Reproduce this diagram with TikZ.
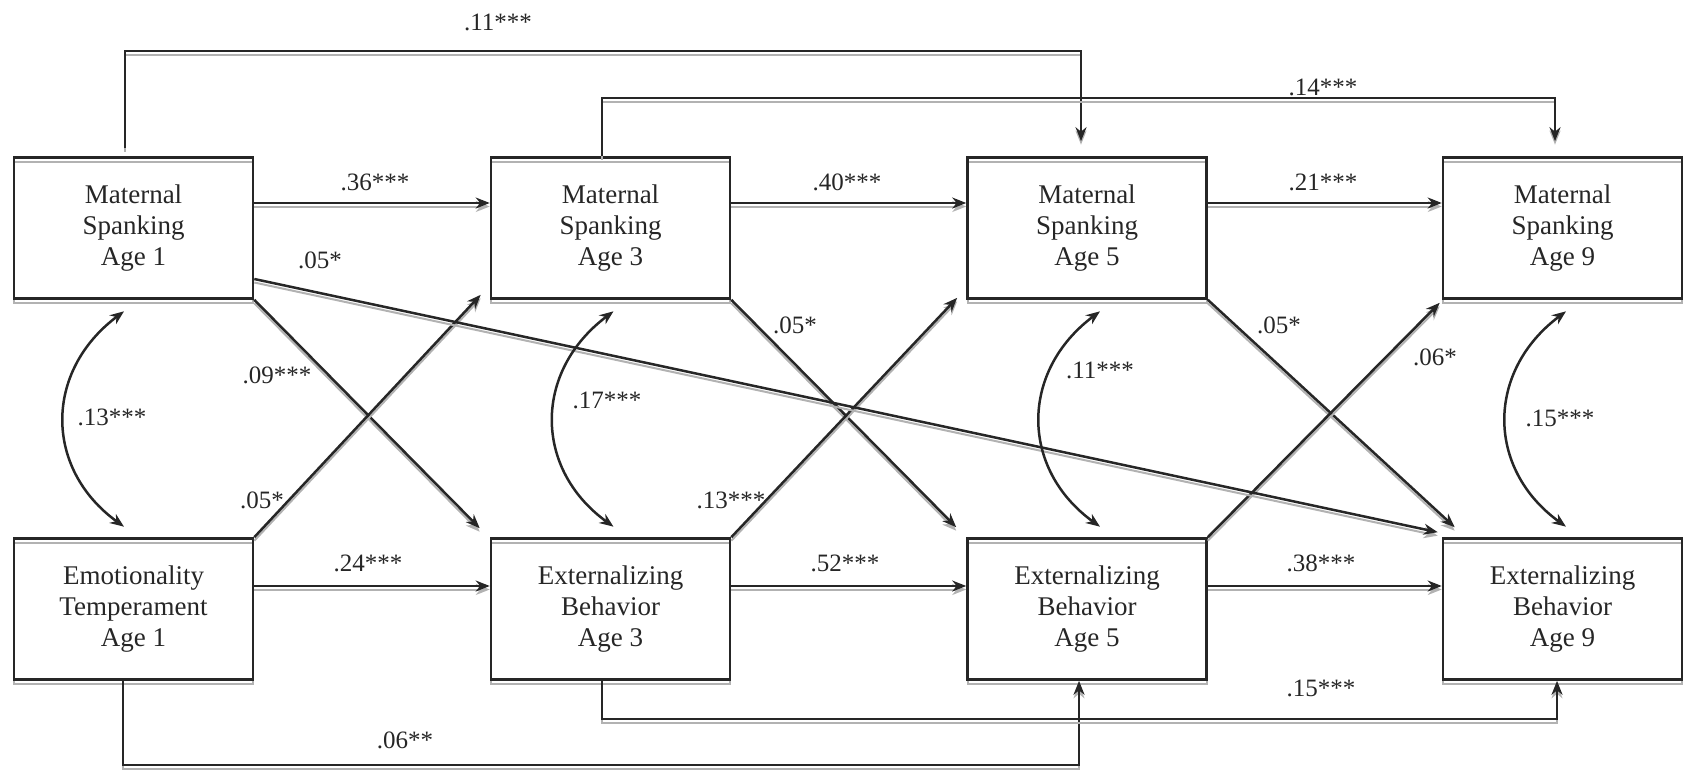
\documentclass[tikz,border=0pt]{standalone}
\usepackage{fontspec}
\setmainfont{Liberation Serif}
\usetikzlibrary{arrows.meta,calc}
\begin{document}
\begin{tikzpicture}[x=1pt,y=-1pt,
  box/.style={draw=black!85, line width=2.6pt, minimum width=239pt, minimum height=141pt,
    inner sep=0pt, align=center, font=\fontsize{27}{31}\selectfont, text=black!85,
    preaction={draw=black!30, line width=2pt, transform canvas={yshift=-4pt}}},
  lbl/.style={font=\fontsize{25}{28}\selectfont, text=black!85, inner sep=0pt},
  conn/.style={draw=black!85, line width=2.5pt,
    preaction={draw=black!30, line width=2pt, transform canvas={yshift=-3.5pt}}},
  arr/.style={conn, -{Stealth[length=14pt,width=11pt,inset=4.5pt]}},
  darr/.style={draw=black!85, line width=2.5pt,
    {Stealth[length=14pt,width=11pt,inset=4.5pt]}-{Stealth[length=14pt,width=11pt,inset=4.5pt]}}
]
\useasboundingbox (0,0) rectangle (1684,769);

% boxes
\node[box] (ms1) at (133.5,228) {Maternal\\Spanking\\Age 1};
\node[box] (ms3) at (610.5,228) {Maternal\\Spanking\\Age 3};
\node[box] (ms5) at (1087,228) {Maternal\\Spanking\\Age 5};
\node[box] (ms9) at (1562.5,228) {Maternal\\Spanking\\Age 9};
\node[box] (et1) at (133.5,609) {Emotionality\\Temperament\\Age 1};
\node[box] (eb3) at (610.5,609) {Externalizing\\Behavior\\Age 3};
\node[box] (eb5) at (1087,609) {Externalizing\\Behavior\\Age 5};
\node[box] (eb9) at (1562.5,609) {Externalizing\\Behavior\\Age 9};

% horizontal paths
\draw[arr] ([yshift=25pt]ms1.east) -- ([yshift=25pt]ms3.west);
\draw[arr] ([yshift=25pt]ms3.east) -- ([yshift=25pt]ms5.west);
\draw[arr] ([yshift=25pt]ms5.east) -- ([yshift=25pt]ms9.west);
\draw[arr] ([yshift=23pt]et1.east) -- ([yshift=23pt]eb3.west);
\draw[arr] ([yshift=23pt]eb3.east) -- ([yshift=23pt]eb5.west);
\draw[arr] ([yshift=23pt]eb5.east) -- ([yshift=23pt]eb9.west);

% long lags above
\coordinate (k11) at (1081,51);
\draw[arr] ([xshift=-8.5pt,yshift=8pt]ms1.north) |- (k11) -- ([xshift=-6pt,yshift=15pt]ms5.north);
\coordinate (k14) at (1555,98);
\draw[arr] ([xshift=-8.5pt]ms3.north) |- (k14) -- ([xshift=-7.5pt,yshift=15pt]ms9.north);

% long lags below
\coordinate (k06) at (1079,765);
\draw[arr] ([xshift=-10.5pt]et1.south) |- (k06) -- ([xshift=-8pt]eb5.south);
\coordinate (k15) at (1557,719);
\draw[arr] ([xshift=-8.5pt]eb3.south) |- (k15) -- ([xshift=-5.5pt]eb9.south);

% cross-lagged paths
\draw[arr] (ms1.south east) -- ([xshift=-10pt,yshift=9pt]eb3.north west);
\draw[arr] (et1.north east) -- ([xshift=-9pt,yshift=5pt]ms3.south west);
\draw[arr] (ms3.south east) -- ([xshift=-10pt,yshift=10pt]eb5.north west);
\draw[arr] (eb3.north east) -- ([xshift=-9pt,yshift=2pt]ms5.south west);
\draw[arr] (ms5.south east) -- ([xshift=13pt,yshift=10pt]eb9.north west);
\draw[arr] (eb5.north east) -- ([xshift=-2pt,yshift=-3pt]ms9.south west);
\draw[arr] ([yshift=-51pt]ms1.east) -- ([xshift=-4pt,yshift=5pt]eb9.north west);

% correlations
\draw[darr] ([xshift=-9.5pt,yshift=-11.5pt]ms1.south) .. controls +(-80,60) and +(-80,-58) .. ([xshift=-9.5pt,yshift=10.5pt]et1.north);
\draw[darr] ([xshift=3pt,yshift=-11.5pt]ms3.south) .. controls +(-80,60) and +(-80,-58) .. ([xshift=3pt,yshift=10.5pt]eb3.north);
\draw[darr] ([xshift=13pt,yshift=-11.5pt]ms5.south) .. controls +(-80,60) and +(-80,-58) .. ([xshift=13pt,yshift=10.5pt]eb5.north);
\draw[darr] ([xshift=3.5pt,yshift=-11.5pt]ms9.south) .. controls +(-80,60) and +(-80,-58) .. ([xshift=3.5pt,yshift=10.5pt]eb9.north);

% labels
\node[lbl] (l01) at (498,22) {.11***};
\node[lbl] (l02) at (1323,87) {.14***};
\node[lbl] (l03) at (375,182) {.36***};
\node[lbl] (l04) at (847,182) {.40***};
\node[lbl] (l05) at (1323,182) {.21***};
\node[lbl] (l06) at (320,260) {.05*};
\node[lbl] (l07) at (277,375) {.09***};
\node[lbl] (l08) at (112,417) {.13***};
\node[lbl] (l09) at (262,500) {.05*};
\node[lbl] (l10) at (607,400) {.17***};
\node[lbl] (l11) at (795,325) {.05*};
\node[lbl] (l12) at (731,500) {.13***};
\node[lbl] (l13) at (1100,370) {.11***};
\node[lbl] (l14) at (1279,325) {.05*};
\node[lbl] (l15) at (1435,357) {.06*};
\node[lbl] (l16) at (1560,418) {.15***};
\node[lbl] (l17) at (368,563) {.24***};
\node[lbl] (l18) at (845,563) {.52***};
\node[lbl] (l19) at (1321,563) {.38***};
\node[lbl] (l20) at (1321,688) {.15***};
\node[lbl] (l21) at (405,740) {.06**};
\end{tikzpicture}
\end{document}
